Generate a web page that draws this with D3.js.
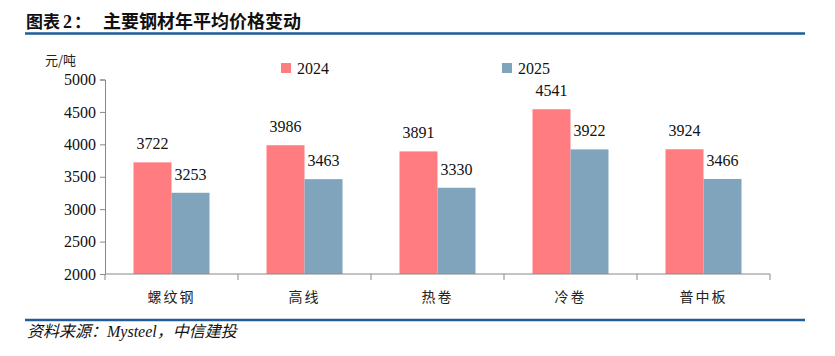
<!DOCTYPE html>
<html><head><meta charset="utf-8">
<script src="https://cdn.jsdelivr.net/npm/d3@7"></script>
<style>
body{margin:0;background:#fff;}
svg text{font-family:"Liberation Serif","Noto Sans CJK SC",serif;}
</style></head>
<body><svg id="c" width="835" height="356"></svg>
<script>
const categories = ["螺纹钢","高线","热卷","冷卷","普中板"];
const seriesNames = ["2024","2025"];
const values2024 = [3722,3986,3891,4541,3924];
const values2025 = [3253,3463,3330,3922,3466];
const yTicks = [2000,2500,3000,3500,4000,4500,5000];
const colors = ["#FF7C80","#7FA4BC"];

const svg = d3.select("#c");
// title
const tf = "'Noto Sans CJK SC',sans-serif";
svg.append("text").attr("x",26).attr("y",28)
  .style("font-family",tf).style("font-weight","bold").style("font-size","17px")
  .attr("fill","#111").text("图表");
svg.append("text").attr("x",63).attr("y",28)
  .style("font-family","'Liberation Serif',serif").style("font-weight","bold").style("font-size","18px")
  .attr("fill","#111").text("2");
svg.append("text").attr("x",74).attr("y",28)
  .style("font-family",tf).style("font-weight","bold").style("font-size","17px")
  .attr("fill","#111").text("：");
svg.append("text").attr("x",103).attr("y",28)
  .style("font-family",tf).style("font-weight","bold").style("font-size","18px")
  .attr("fill","#111").text("主要钢材年平均价格变动");
svg.append("line").attr("x1",25).attr("x2",805).attr("y1",33.5).attr("y2",33.5)
  .attr("stroke","#1F5C99").attr("stroke-width",2.5);
svg.append("line").attr("x1",25).attr("x2",805).attr("y1",320).attr("y2",320)
  .attr("stroke","#1F5C99").attr("stroke-width",2.5);
svg.append("text").attr("x",27).attr("y",337)
  .style("font-style","italic").style("font-size","16px").attr("fill","#111")
  .text("资料来源：Mysteel，中信建投");

const x0 = d3.scaleBand().domain(categories).range([105,770]).paddingInner(0).paddingOuter(0);
const x1 = d3.scaleBand().domain(seriesNames).range([0,76]);
const y = d3.scaleLinear().domain([2000,5000]).range([274,79.5]);

// unit
svg.append("text").attr("x",45).attr("y",65).style("font-size","13px")
  .style("font-family",tf).attr("fill","#222").text("元/吨");

// y axis
const ya = svg.append("g").attr("transform","translate(105,0)")
  .call(d3.axisLeft(y).tickValues(yTicks).tickSize(5).tickPadding(4).tickFormat(d3.format("d")));
ya.attr("font-family","Liberation Serif").attr("font-size",16);
ya.selectAll("path,line").attr("stroke","#888");
ya.selectAll("text").style("font-family","'Liberation Serif',serif").style("font-size","16px").attr("fill","#111");

// bars
const data = categories.map((c,i)=>({c, vals:[values2024[i],values2025[i]]}));
const g = svg.append("g");
data.forEach(d=>{
  const cx = x0(d.c) + x0.bandwidth()/2 - 38;
  d.vals.forEach((v,j)=>{
    const bx = cx + x1(seriesNames[j]);
    g.append("rect").attr("x",bx).attr("y",y(v)).attr("width",x1.bandwidth()).attr("height",y(2000)-y(v))
      .attr("fill",colors[j]);
    g.append("text").attr("x",bx+x1.bandwidth()/2).attr("y",y(v)-13).attr("text-anchor","middle")
      .style("font-size","16px").attr("fill","#111").text(v);
  });
});

// x axis
const xa = svg.append("g").attr("transform","translate(0,274)");
xa.append("line").attr("x1",105).attr("x2",770).attr("stroke","#888");
const bounds = categories.map(c=>x0(c)).concat([x0.range()[1]]);
bounds.forEach(b=>xa.append("line").attr("x1",b).attr("x2",b).attr("y1",0).attr("y2",6).attr("stroke","#888"));
categories.forEach(c=>xa.append("text").attr("x",x0(c)+x0.bandwidth()/2).attr("y",28)
  .attr("text-anchor","middle").style("font-family",tf)
  .style("font-size","14px").attr("fill","#222").attr("letter-spacing","2px").text(c));

// legend
[[281,"2024"],[502,"2025"]].forEach((l,i)=>{
  svg.append("rect").attr("x",l[0]).attr("y",63).attr("width",10).attr("height",10).attr("fill",colors[i]);
  svg.append("text").attr("x",l[0]+16).attr("y",74).style("font-size","16px").attr("fill","#111").text(l[1]);
});
</script></body></html>
